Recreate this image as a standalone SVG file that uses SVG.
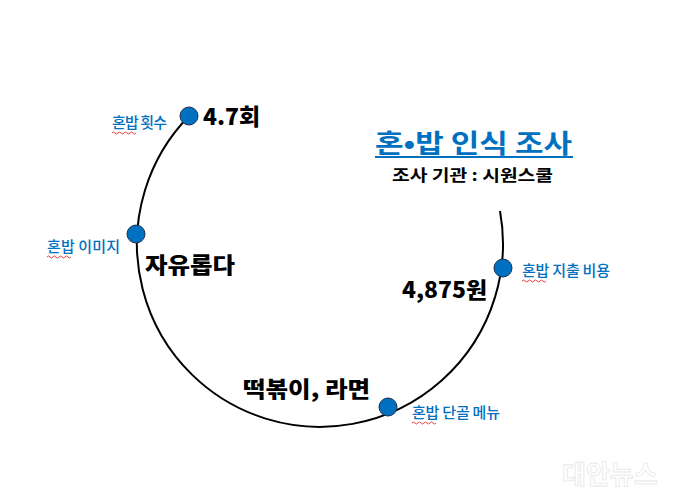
<svg xmlns="http://www.w3.org/2000/svg" width="680" height="504" viewBox="0 0 680 504">
<style>
.bg{fill:#ffffff}
.arc{fill:none;stroke:#000000;stroke-width:2}
.dot{fill:#0070C0;stroke:#1f2d4a;stroke-width:1}
.lbl{font-family:"Noto Sans CJK KR","Noto Sans",sans-serif;font-size:15px;font-weight:500;fill:#0070C0}
.val{font-family:"Noto Sans CJK KR","Noto Sans",sans-serif;font-weight:900;fill:#000000}
.title{font-family:"Noto Sans CJK KR","Noto Sans",sans-serif;font-weight:700;font-size:26px;fill:#0070C0}
.sub{font-family:"Noto Sans CJK KR","Noto Sans",sans-serif;font-weight:700;font-size:16px;fill:#000000}
.sq{fill:none;stroke:#e03030;stroke-width:0.9}
.wm{font-family:"Noto Sans CJK KR","Noto Sans",sans-serif;font-weight:700;font-size:26px;fill:#ffffff;stroke:#e8e8e8;stroke-width:0.8}
</style>
<rect class="bg" x="0" y="0" width="680" height="504"/>
<g id="connectors">
<path class="arc" d="M189,116 A183,183 0 1 0 500,211"/>
</g>
<g id="title">
<text class="title" x="375" y="153" textLength="197" lengthAdjust="spacingAndGlyphs">혼•밥 인식 조사</text>
<rect x="375" y="156" width="198" height="2" fill="#0070C0"/>
<text class="sub" x="392" y="181" textLength="161" lengthAdjust="spacingAndGlyphs">조사 기관 : 시원스쿨</text>
</g>
<g id="node-count">
<circle class="dot" cx="189" cy="116" r="9"/>
<text class="lbl" x="112" y="128" textLength="55" lengthAdjust="spacing">혼밥 횟수</text>
<path class="sq" d="M112,133 q1.5,-2 3,0 t3,0 t3,0 t3,0 t3,0 t3,0 t3,0 t3,0"/>
<text class="val" x="203" y="125" font-size="23" textLength="57" lengthAdjust="spacingAndGlyphs">4.7회</text>
</g>
<g id="node-image">
<circle class="dot" cx="136" cy="234" r="9"/>
<text class="lbl" x="47" y="252" textLength="73" lengthAdjust="spacing">혼밥 이미지</text>
<path class="sq" d="M47,257 q1.5,-2 3,0 t3,0 t3,0 t3,0 t3,0 t3,0 t3,0 t3,0"/>
<text class="val" x="145" y="273" font-size="22" textLength="90" lengthAdjust="spacingAndGlyphs">자유롭다</text>
</g>
<g id="node-cost">
<circle class="dot" cx="503" cy="268" r="9"/>
<text class="lbl" x="522" y="276" textLength="88" lengthAdjust="spacing">혼밥 지출 비용</text>
<path class="sq" d="M522,281 q1.5,-2 3,0 t3,0 t3,0 t3,0 t3,0 t3,0 t3,0 t3,0"/>
<text class="val" x="402" y="298" font-size="22" textLength="85" lengthAdjust="spacingAndGlyphs">4,875원</text>
</g>
<g id="node-menu">
<circle class="dot" cx="388" cy="407" r="9"/>
<text class="lbl" x="412" y="418" textLength="88" lengthAdjust="spacing">혼밥 단골 메뉴</text>
<path class="sq" d="M412,423 q1.5,-2 3,0 t3,0 t3,0 t3,0 t3,0 t3,0 t3,0 t3,0"/>
<text class="val" x="243" y="397" font-size="22" textLength="127" lengthAdjust="spacingAndGlyphs">떡볶이, 라면</text>
</g>
<g id="watermark">
<text class="wm" x="562" y="484">대안뉴스</text>
</g>
</svg>
